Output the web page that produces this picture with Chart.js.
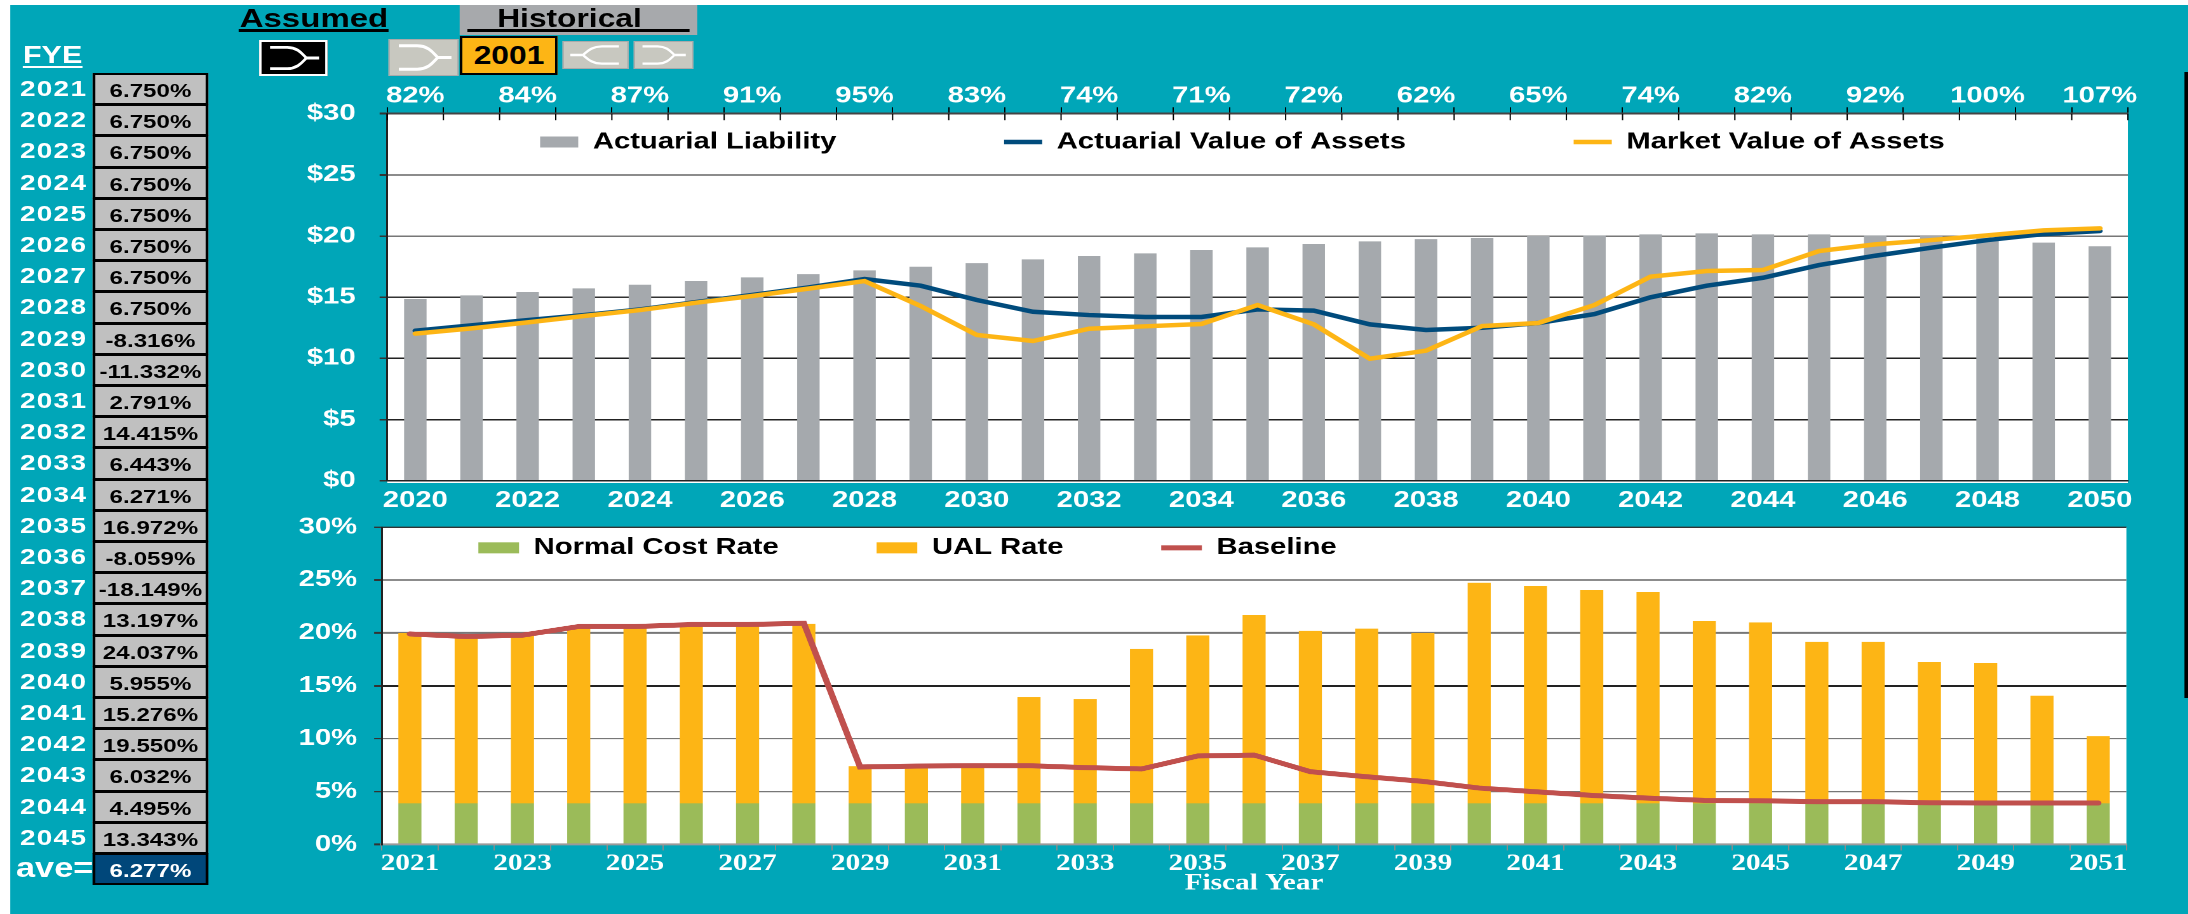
<!DOCTYPE html>
<html>
<head>
<meta charset="utf-8">
<title>Funding projection</title>
<script src="https://cdn.jsdelivr.net/npm/chart.js@4"></script>
<style>
html, body { margin: 0; padding: 0; background: #fff; overflow: hidden; }
/* the whole sheet is stretched sideways, the text in the picture is wide */
#stage { position: absolute; left: 0; top: 0; height: 914px; transform-origin: 0 0; font-family: "Liberation Sans", Arial, sans-serif; font-weight: bold; }
#stage div, #stage svg { position: absolute; box-sizing: border-box; white-space: nowrap; }
#stage canvas { display: block; }
.cell { background: #c0c0c0; border: 2px solid #000; color: #000; text-align: center; font-size: 19px; }
.year { color: #fff; font-size: 22px; letter-spacing: 1px; }
</style>
</head>
<body>
<div id="stage"></div>
<script>
// values
const fundedYears = ["2020","2021","2022","2023","2024","2025","2026","2027","2028","2029","2030","2031","2032","2033","2034","2035","2036","2037","2038","2039","2040","2041","2042","2043","2044","2045","2046","2047","2048","2049","2050"];
const fundedRatio = ["82%","84%","87%","91%","95%","83%","74%","71%","72%","62%","65%","74%","82%","92%","100%","107%"];
const actuarialLiability = [14.85,15.15,15.42,15.72,16.02,16.32,16.62,16.89,17.19,17.49,17.79,18.09,18.37,18.58,18.86,19.07,19.35,19.56,19.75,19.84,20.0,20.05,20.14,20.22,20.14,20.14,20.05,20.0,19.85,19.46,19.16];
const actuarialAssets = [12.26,12.7,13.13,13.54,14.0,14.6,15.18,15.8,16.49,15.94,14.77,13.81,13.54,13.38,13.38,14.0,13.9,12.78,12.32,12.5,12.89,13.62,14.99,15.94,16.59,17.63,18.39,19.05,19.67,20.16,20.41];
const marketAssets = [12.02,12.45,12.94,13.46,13.95,14.55,15.1,15.7,16.32,14.28,11.91,11.42,12.42,12.62,12.81,14.36,12.78,9.97,10.63,12.64,12.89,14.36,16.68,17.14,17.22,18.77,19.32,19.67,20.05,20.46,20.63];

const rateYears = ["2021","2022","2023","2024","2025","2026","2027","2028","2029","2030","2031","2032","2033","2034","2035","2036","2037","2038","2039","2040","2041","2042","2043","2044","2045","2046","2047","2048","2049","2050","2051"];
const normalCostRate = [3.88,3.88,3.88,3.88,3.88,3.88,3.88,3.88,3.88,3.88,3.88,3.88,3.88,3.88,3.88,3.88,3.88,3.88,3.88,3.88,3.88,3.88,3.88,3.88,3.88,3.88,3.88,3.88,3.88,3.88,3.88];
const ualRate = [16.09,15.77,15.9,16.66,16.66,16.88,16.88,16.97,3.5,3.53,3.56,10.06,9.84,14.61,15.87,17.79,16.31,16.53,16.09,20.85,20.54,20.16,19.97,17.22,17.1,15.27,15.27,13.34,13.25,10.19,6.34];
const baselineRate = [19.9,19.65,19.78,20.6,20.6,20.79,20.79,20.91,7.32,7.41,7.44,7.44,7.26,7.13,8.36,8.45,6.88,6.4,5.96,5.33,4.98,4.64,4.38,4.16,4.13,4.04,4.04,3.94,3.91,3.91,3.91];

const returnYears = ["2021","2022","2023","2024","2025","2026","2027","2028","2029","2030","2031","2032","2033","2034","2035","2036","2037","2038","2039","2040","2041","2042","2043","2044","2045"];
const returnRates = ["6.750%","6.750%","6.750%","6.750%","6.750%","6.750%","6.750%","6.750%","-8.316%","-11.332%","2.791%","14.415%","6.443%","6.271%","16.972%","-8.059%","-18.149%","13.197%","24.037%","5.955%","15.276%","19.550%","6.032%","4.495%","13.343%"];
const averageReturn = "6.277%";

const K = 1.27; // sideways stretch of the sheet
const TEAL = '#00a6b8';
const stage = document.getElementById('stage');
stage.style.width = (2188 / K) + 'px';
stage.style.transform = 'scaleX(' + K + ')';

// x, y, w, h are given in page pixels
function box(x, y, w, h, css, text) {
    const el = document.createElement('div');
    el.style.cssText = 'left:' + (x / K) + 'px;top:' + y + 'px;width:' + (w / K) + 'px;height:' + h + 'px;line-height:' + h + 'px;' + (css || '');
    if (text) el.textContent = text;
    stage.appendChild(el);
    return el;
}

function arrowButton(x, y, w, h, css, stroke, flip) {
    const el = box(x, y, w, h, css);
    el.innerHTML = '<svg style="left:0;top:0;width:100%;height:100%" viewBox="0 0 60 30" preserveAspectRatio="none">' +
        '<path d="M8 5 H24 C34 5 38 11 42 15 C38 19 34 25 24 25 H8 M42 15 H54" fill="none" stroke="' + stroke + '" stroke-width="2.6"' +
        (flip ? ' transform="translate(60,0) scale(-1,1)"' : '') + '/></svg>';
}

// sheet background and header
box(10, 5, 2178, 909, 'background:' + TEAL);
box(2184, 72, 4, 626, 'background:#000');
box(237, 7, 154, 22, 'font-size:26px;color:#000;text-align:center', 'Assumed');
box(239, 29, 150, 3, 'background:#000');
box(460, 5, 237, 30, 'background:#a7a9ac');
box(451, 6, 237, 24, 'font-size:25px;color:#000;text-align:center', 'Historical');
box(467, 29, 223, 3, 'background:#000');
box(23, 44, 62, 22, 'font-size:24px;color:#fff', 'FYE');
box(23, 66, 60, 2, 'background:#fff');
arrowButton(259, 40, 69, 36, 'background:#000;border:2px solid #fff', '#fff', false);
arrowButton(388, 39, 71, 37, 'background:#c8c8c0;border:1px solid #aaa', '#fff', false);
box(460, 36, 98, 39, 'background:#fdb515;border:2px solid #000;font-size:25px;color:#000;text-align:center;line-height:35px', '2001');
arrowButton(563, 41, 66, 28, 'background:#c8c8c0;border:1px solid #aaa', '#fff', true);
arrowButton(634, 41, 59, 28, 'background:#c8c8c0;border:1px solid #aaa', '#fff', false);

// assumed return table
returnYears.forEach(function (year, i) {
    const y = 73 + i * 31.2;
    box(20, y, 70, 31, '', year).className = 'year';
    box(93, y, 115, 32.2, '', returnRates[i]).className = 'cell';
});
box(16, 853, 78, 31, 'font-size:27px;color:#fff', 'ave=');
box(93, 853, 115, 32, 'background:#00477a;color:#fff;border-color:#000', averageReturn).className = 'cell';

function addCanvas(x, y, w, h) {
    const holder = box(x, y, w, h);
    const canvas = document.createElement('canvas');
    holder.appendChild(canvas);
    return canvas;
}

Chart.defaults.font.family = '"Liberation Sans", Arial, sans-serif';
Chart.defaults.font.weight = 'bold';
Chart.defaults.font.size = 23;
Chart.defaults.color = '#fff';

// white plot area, plus the legend sat inside the plot instead of above it
const sheetPlugin = {
    id: 'sheet',
    beforeUpdate(chart) {
        const legend = chart.legend;
        if (legend && !legend.patched) {
            const fit = legend.fit;
            legend.fit = function () { fit.call(this); this.height = 0; };
            legend.patched = true;
        }
    },
    afterLayout(chart) {
        const o = chart.options.plugins.sheet;
        chart.legend.top = o.legendTop;
        chart.legend.bottom = chart.height;
        chart.legend.left += o.legendShift;
        chart.legend.right += o.legendShift;
    },
    beforeDraw(chart) {
        const a = chart.chartArea;
        chart.ctx.save();
        chart.ctx.fillStyle = '#fff';
        chart.ctx.fillRect(a.left, a.top, a.width, a.height);
        chart.ctx.restore();
    },
    afterDatasetsDraw(chart) {
        const top = chart.scales.xTop;
        const ctx = chart.ctx;
        ctx.save();
        if (top) {
            // the top ticks run through the axis line
            const step = top.width / fundedYears.length;
            ctx.strokeStyle = '#000';
            ctx.lineWidth = 1;
            for (let i = 0; i <= fundedYears.length; i++) {
                ctx.beginPath();
                ctx.moveTo(top.left + i * step, top.bottom);
                ctx.lineTo(top.left + i * step, top.bottom + 6.5);
                ctx.stroke();
            }
            ctx.strokeStyle = '#fff';
            ctx.lineWidth = 1.5;
            ctx.beginPath();
            ctx.moveTo(chart.chartArea.left, chart.chartArea.bottom + 1.5);
            ctx.lineTo(chart.chartArea.right, chart.chartArea.bottom + 1.5);
            ctx.stroke();
        }
        ctx.restore();
    }
};

function legendLabels(boxWidth, padding) {
    return {
        color: '#000',
        usePointStyle: true,
        pointStyleWidth: boxWidth,
        boxHeight: 11,
        padding: padding,
        sort: (a, b) => a.datasetIndex - b.datasetIndex,
        generateLabels(chart) {
            const items = Chart.defaults.plugins.legend.labels.generateLabels(chart);
            items.forEach(function (item) {
                item.pointStyle = chart.data.datasets[item.datasetIndex].type === 'line' ? 'line' : 'rect';
            });
            return items;
        }
    };
}

function yAxis(maxValue, step, prefix, suffix, stacked, width, padding, colors, widths) {
    return {
        min: 0,
        max: maxValue,
        stacked: stacked,
        afterFit(scale) { scale.width = width / K; },
        border: { color: '#222', width: 1.5 },
        grid: {
            color: (ctx) => colors[ctx.index],
            lineWidth: (ctx) => widths[ctx.index],
            tickLength: 6,
            tickColor: '#333'
        },
        ticks: {
            stepSize: step,
            padding: padding / K,
            color: '#fff',
            callback: (value) => prefix + value + suffix
        }
    };
}

// funding chart
new Chart(addCanvas(300, 70, 1860, 450), {
    type: 'bar',
    plugins: [sheetPlugin],
    data: {
        labels: fundedYears,
        datasets: [
            { label: 'Actuarial Liability', data: actuarialLiability, backgroundColor: '#a5a9ad', borderWidth: 0, barPercentage: 0.4, categoryPercentage: 1, order: 2 },
            { type: 'line', label: 'Actuarial Value of Assets', data: actuarialAssets, borderColor: '#004b7c', backgroundColor: '#004b7c', borderWidth: 4.5, pointRadius: 0, tension: 0, borderCapStyle: 'round', order: 1 },
            { type: 'line', label: 'Market Value of Assets', data: marketAssets, borderColor: '#fdb515', backgroundColor: '#fdb515', borderWidth: 4.5, pointRadius: 0, tension: 0, borderCapStyle: 'round', order: 0 }
        ]
    },
    options: {
        responsive: true,
        maintainAspectRatio: false,
        animation: false,
        devicePixelRatio: 2,
        layout: { padding: { right: 32.5 / K, left: 0, top: 0, bottom: 0 } },
        plugins: {
            tooltip: { enabled: false },
            sheet: { legendTop: -71.5, legendShift: 22.5 },
            legend: { labels: legendLabels(30, 132) }
        },
        scales: {
            x: {
                afterFit(scale) { scale.height = 39.3; },
                border: { color: '#222', width: 1.5 },
                grid: { drawOnChartArea: false, drawTicks: false },
                ticks: { autoSkip: false, maxRotation: 0, padding: 6, color: '#fff', callback(value, i) { return i % 2 ? '' : fundedYears[i]; } }
            },
            xTop: {
                type: 'category',
                position: 'top',
                labels: fundedYears,
                offset: true,
                afterFit(scale) { scale.height = 43.7; },
                border: { color: '#444', width: 2 },
                grid: { offset: true, drawOnChartArea: false, tickLength: 6.5, tickColor: '#000' },
                ticks: { autoSkip: false, maxRotation: 0, padding: -3, color: '#fff', callback(value, i) { return i % 2 ? '' : fundedRatio[i / 2]; } }
            },
            y: yAxis(30, 5, '$', '', false, 87.5, 24, ['#222', '#222', '#222', '#333', '#777', '#8c8c8c', '#444'], [1.5, 1.5, 1.5, 1.5, 1.5, 2, 2])
        }
    }
});

// contribution rate chart
new Chart(addCanvas(300, 497.3, 1860, 399.7), {
    type: 'bar',
    plugins: [sheetPlugin],
    data: {
        labels: rateYears,
        datasets: [
            { label: 'Normal Cost Rate', data: normalCostRate, backgroundColor: '#9bbb59', borderWidth: 0, barPercentage: 0.41, categoryPercentage: 1, order: 2 },
            { label: 'UAL Rate', data: ualRate, backgroundColor: '#fdb515', borderWidth: 0, barPercentage: 0.41, categoryPercentage: 1, order: 2 },
            { type: 'line', label: 'Baseline', data: baselineRate, borderColor: '#c0504d', backgroundColor: '#c0504d', borderWidth: 5, pointRadius: 0, tension: 0, borderCapStyle: 'round', order: 0 }
        ]
    },
    options: {
        responsive: true,
        maintainAspectRatio: false,
        animation: false,
        devicePixelRatio: 2,
        layout: { padding: { right: 34 / K, left: 0, top: 30, bottom: 0 } },
        plugins: {
            tooltip: { enabled: false },
            sheet: { legendTop: -37.8, legendShift: -240.5 },
            legend: { labels: legendLabels(32, 77) }
        },
        scales: {
            x: {
                stacked: true,
                afterFit(scale) { scale.height = 52.7; },
                border: { color: '#9a9a9a', width: 2 },
                grid: { drawOnChartArea: false, tickLength: 6, tickColor: '#8a8a8a' },
                title: { display: true, text: 'Fiscal Year', color: '#fff', padding: 0, font: { family: '"Liberation Serif", serif', size: 23, weight: 'bold' } },
                ticks: { autoSkip: false, maxRotation: 0, padding: 0, color: '#fff', font: { family: '"Liberation Serif", serif', size: 23, weight: 'bold' }, callback(value, i) { return i % 2 ? '' : rateYears[i]; } }
            },
            y: yAxis(30, 5, '', '%', true, 82, 17, ['#8c8c8c', '#777', '#777', '#222', '#777', '#8c8c8c', '#333'], [2, 1.5, 1.5, 1.5, 2, 2, 1.5])
        }
    }
});
</script>
</body>
</html>
